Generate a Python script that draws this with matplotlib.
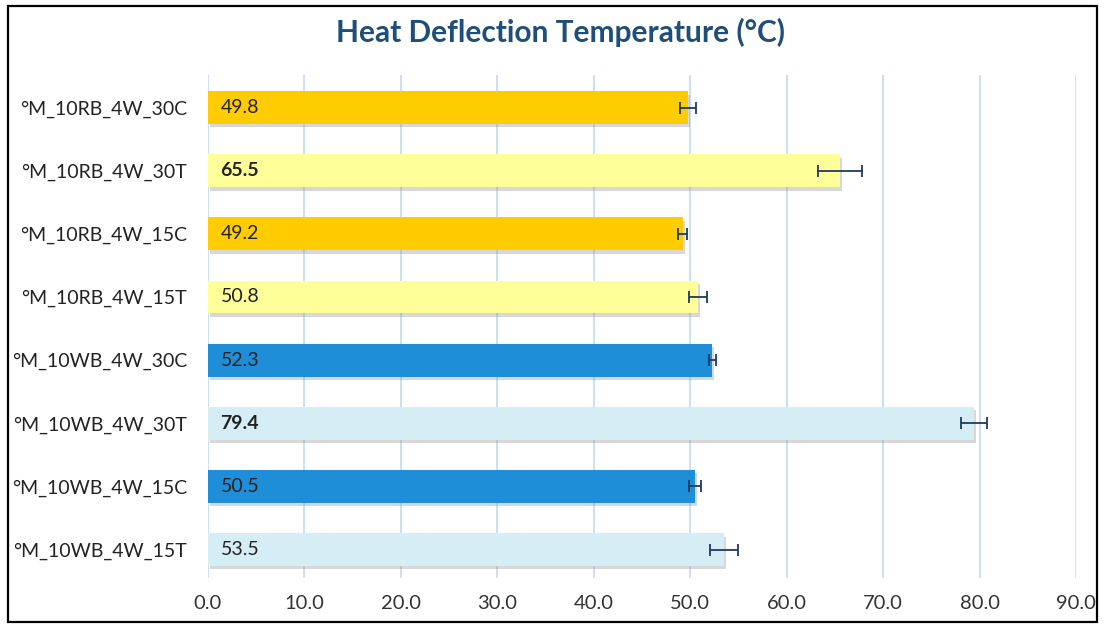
import matplotlib
matplotlib.use("Agg")
import matplotlib.pyplot as plt
import matplotlib.patheffects as pe
from matplotlib.patches import Rectangle

plt.rcParams['font.family'] = ['Lato', 'DejaVu Sans']

categories = ["°M_10RB_4W_30C", "°M_10RB_4W_30T", "°M_10RB_4W_15C", "°M_10RB_4W_15T",
              "°M_10WB_4W_30C", "°M_10WB_4W_30T", "°M_10WB_4W_15C", "°M_10WB_4W_15T"]
values = [49.8, 65.5, 49.2, 50.8, 52.3, 79.4, 50.5, 53.5]
errors = [0.85, 2.3, 0.5, 0.9, 0.4, 1.35, 0.6, 1.5]
colors = ["#FFCC00", "#FFFF99", "#FFCC00", "#FFFF99",
          "#1F8ED8", "#D5EDF5", "#1F8ED8", "#D5EDF5"]
bold_labels = [False, True, False, False, False, True, False, False]
xticks = [0, 10, 20, 30, 40, 50, 60, 70, 80, 90]
title = "Heat Deflection Temperature (°C)"

W, H = 1105, 628
fig = plt.figure(figsize=(W / 100, H / 100), dpi=100)
fig.patches.append(Rectangle((8 / W, 6 / H), (1097 - 8) / W, (622 - 6) / H,
                             transform=fig.transFigure, fill=False,
                             edgecolor="black", linewidth=1.6))

ax = fig.add_axes([208 / W, 1 - 578 / H, (1076 - 208) / W, (578 - 75) / H])
n = len(categories)
ypos = list(range(n))[::-1]

bars = ax.barh(ypos, values, height=0.52, color=colors, zorder=3,
               path_effects=[pe.SimplePatchShadow(offset=(1.5, -2.5), shadow_rgbFace="#909090", alpha=0.35),
                             pe.Normal()])
ax.errorbar(values, ypos, xerr=errors, fmt="none", ecolor="#1F3A5F",
            elinewidth=1.3, capsize=4, capthick=1.3, zorder=4)

for y, v, b in zip(ypos, values, bold_labels):
    ax.text(1.3, y, f"{v:.1f}", va="center", ha="left", fontsize=14,
            fontweight="bold" if b else "normal", color="#222222", zorder=5)

ax.set_xlim(0, 90)
ax.set_ylim(-0.45, n - 1 + 0.515)
ax.set_xticks(xticks)
ax.set_xticklabels([f"{t:.1f}" for t in xticks], fontsize=14.5, color="#333333")
ax.set_yticks(ypos)
ax.set_yticklabels(categories, fontsize=14, color="#222222")
ax.tick_params(axis="both", length=0)
ax.tick_params(axis="x", pad=12)
ax.tick_params(axis="y", pad=15)
for s in ax.spines.values():
    s.set_visible(False)
ax.grid(axis="x", color="#BFD7EE", linewidth=1.1, zorder=0)
ax.set_axisbelow(True)

fig.text(561 / W, 1 - 32 / H, title, ha="center", va="center", fontsize=21.5,
         fontweight="bold", color="#1F4E79")

fig.savefig("out.png", dpi=100)
